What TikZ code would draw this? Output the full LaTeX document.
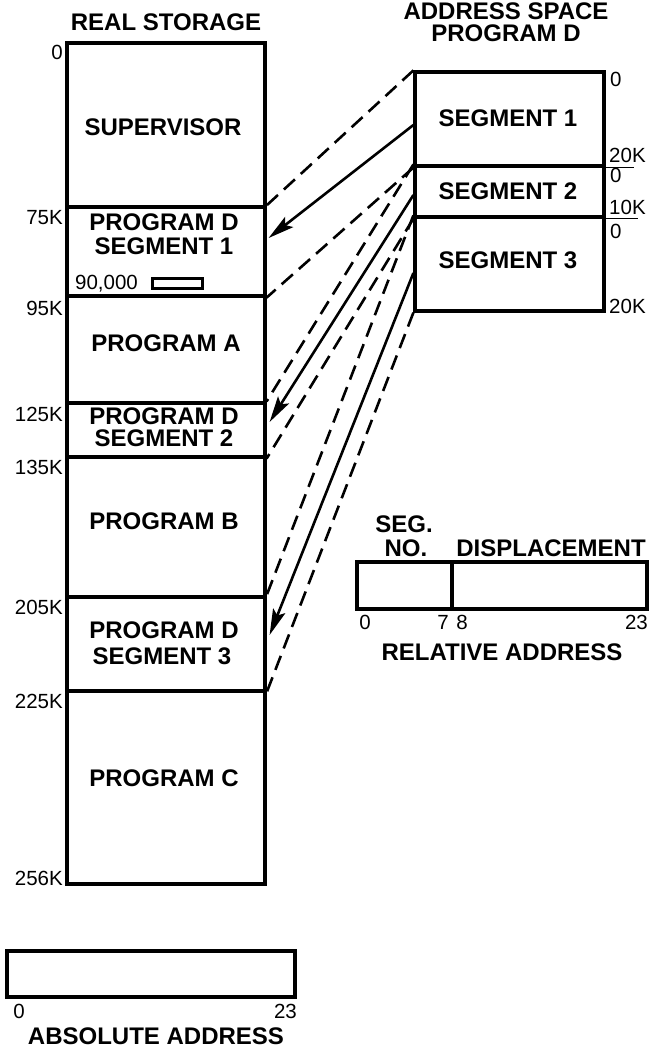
\documentclass[tikz,border=0pt]{standalone}
\usepackage{fontspec}
\setmainfont{Liberation Sans}
\usetikzlibrary{arrows.meta,calc}
\begin{document}
\begin{tikzpicture}[x=1pt,y=-1pt,
  box/.style={draw, line width=3.2pt, inner sep=0pt},
  big/.style={font=\fontsize{24}{26}\selectfont\bfseries, inner sep=0pt},
  lab/.style={font=\fontsize{20.5}{22}\selectfont, inner sep=0pt},
  dashline/.style={line width=2.6pt, dash pattern=on 15pt off 8pt},
  maparrow/.style={line width=2.6pt, -{Stealth[length=26pt,width=13pt,inset=5pt]}},
  tick/.style={line width=1.6pt}
]
\useasboundingbox (0,0) rectangle (652,1049);

% ---------- real storage ----------
\node[big] (rstitle) at (166,22) {REAL STORAGE};
\node[box, minimum width=198pt, minimum height=164pt] (sup)   at (166,125)   {};
\node[box, minimum width=198pt, minimum height=89pt]  (seg1)  at (166,251.5) {};
\node[box, minimum width=198pt, minimum height=107pt] (proga) at (166,349.5) {};
\node[box, minimum width=198pt, minimum height=54pt]  (seg2)  at (166,430)   {};
\node[box, minimum width=198pt, minimum height=140pt] (progb) at (166,527)   {};
\node[box, minimum width=198pt, minimum height=94pt]  (seg3)  at (166,644)   {};
\node[box, minimum width=198pt, minimum height=193pt] (progc) at (166,787.5) {};

\node[big] (tsup) at (163,127) {SUPERVISOR};
\node[big] (ts1a) at (164,222) {PROGRAM D};
\node[big] (ts1b) at (164,246) {SEGMENT 1};
\node[lab, anchor=west] (t90) at (75,284) {90,000};
\node[draw, line width=2.2pt, minimum width=50pt, minimum height=10pt, inner sep=0pt] (mark) at (177.5,283.5) {};
\node[big] (tpa)  at (166,343) {PROGRAM A};
\node[big] (ts2a) at (164,416) {PROGRAM D};
\node[big] (ts2b) at (164,438.5) {SEGMENT 2};
\node[big] (tpb)  at (164,521) {PROGRAM B};
\node[big] (ts3a) at (164,630) {PROGRAM D};
\node[big] (ts3b) at (162,656) {SEGMENT 3};
\node[big] (tpc)  at (164,778) {PROGRAM C};

\node[lab, anchor=east] (l0)   at (63,52)  {0};
\node[lab, anchor=east] (l75)  at (63,218) {75K};
\node[lab, anchor=east] (l95)  at (63,308) {95K};
\node[lab, anchor=east] (l125) at (63,414) {125K};
\node[lab, anchor=east] (l135) at (63,467) {135K};
\node[lab, anchor=east] (l205) at (63,607) {205K};
\node[lab, anchor=east] (l225) at (63,701) {225K};
\node[lab, anchor=east] (l256) at (63,878) {256K};

% ---------- address space ----------
\node[big] (astitle1) at (506,11.5) {ADDRESS SPACE};
\node[big] (astitle2) at (506,33.5) {PROGRAM D};
\node[box, minimum width=189pt, minimum height=94pt] (as1) at (509.5,119)   {};
\node[box, minimum width=189pt, minimum height=51pt] (as2) at (509.5,191.5) {};
\node[box, minimum width=189pt, minimum height=94pt] (as3) at (509.5,264)   {};
\node[big] (tas1) at (508,118) {SEGMENT 1};
\node[big] (tas2) at (508,191) {SEGMENT 2};
\node[big] (tas3) at (508,260) {SEGMENT 3};

\draw[tick] (as1.south east) -- ++(28,0) coordinate (k1);
\draw[tick] (as2.south east) -- ++(32,0) coordinate (k2);
\node[lab, anchor=west] (r0a)  at (610,79)  {0};
\node[lab, anchor=west] (r20a) at (609,155) {20K};
\node[lab, anchor=west] (r0b)  at (610,175) {0};
\node[lab, anchor=west] (r10)  at (609,207.5) {10K};
\node[lab, anchor=west] (r0c)  at (610,231) {0};
\node[lab, anchor=west] (r20b) at (609,306) {20K};

% ---------- mapping lines ----------
\draw[dashline] (as1.north west) -- (seg1.north east);
\draw[dashline] (as1.south west) -- (seg1.south east);
\draw[dashline] (as2.north west) -- (seg2.north east);
\draw[dashline] (as2.south west) -- (seg2.south east);
\draw[dashline] (as3.north west) -- (seg3.north east);
\draw[dashline] (as3.south west) -- (seg3.south east);
\draw[maparrow] ([yshift=-6pt]as1.west) -- ([xshift=2pt,yshift=13.5pt]seg1.east);
\draw[maparrow] ([yshift=-3.5pt]as2.west) -- ([xshift=3pt,yshift=8pt]seg2.east);
\draw[maparrow] ([yshift=-9pt]as3.west) -- ([xshift=3pt,yshift=9pt]seg3.east);

% ---------- relative address ----------
\node[big] (tseg) at (404,524.5) {SEG.};
\node[big] (tno)  at (406,548.5) {NO.};
\node[big] (tdisp) at (551,548.5) {DISPLACEMENT};
\node[box, minimum width=95pt,  minimum height=47pt] (segno) at (404.5,585.5) {};
\node[box, minimum width=195pt, minimum height=47pt] (disp)  at (549.5,585.5) {};
\node[lab] (b0)  at (365,622) {0};
\node[lab] (b7)  at (443,622) {7};
\node[lab] (b8)  at (462,622) {8};
\node[lab, anchor=east] (b23) at (648,622) {23};
\node[big] (trel) at (502,652) {RELATIVE ADDRESS};

% ---------- absolute address ----------
\node[box, minimum width=288pt, minimum height=46pt] (absbox) at (151,974) {};
\node[lab] (c0) at (19,1011) {0};
\node[lab, anchor=east] (c23) at (297,1011) {23};
\node[big] (tabs) at (156,1036) {ABSOLUTE ADDRESS};
\end{tikzpicture}
\end{document}
